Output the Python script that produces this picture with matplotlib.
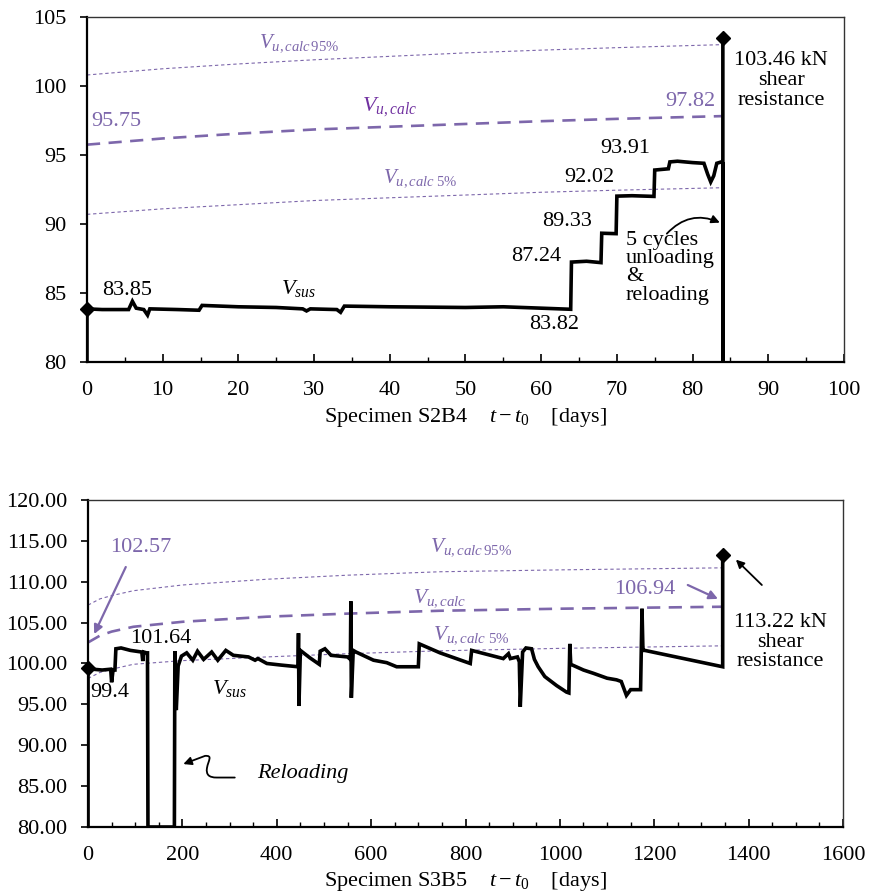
import matplotlib
matplotlib.use('Agg')
import matplotlib.pyplot as plt
from matplotlib.path import Path
from matplotlib.patches import FancyArrowPatch
from matplotlib.ticker import MultipleLocator, FormatStrFormatter

plt.rcParams['font.family'] = ['Liberation Serif', 'DejaVu Serif']
plt.rcParams['mathtext.fontset'] = 'custom'
plt.rcParams['mathtext.rm'] = 'Liberation Serif'
plt.rcParams['mathtext.it'] = 'Liberation Serif:italic'

PURPLE = '#7d67ab'
MAGENTA = '#7030a0'
FS = 16

# ---- specimen S2B4 (top) ----
t_s2b4 = [0, 0, 2, 5.5, 6, 6.5, 7.5, 8, 8.3, 12, 14.8, 15.2, 20, 25, 28.5, 29, 29.5,
          33, 33.5, 34, 40, 50, 55, 60, 63.9, 64, 66, 67.9, 68, 69.9, 70, 72, 74.9,
          75, 76.8, 77, 78, 80, 81.5, 82, 82.4, 82.8, 83.2, 83.8, 84, 84, 84]
v_s2b4 = [80, 83.85, 83.8, 83.8, 84.4, 83.9, 83.8, 83.4, 83.85, 83.8, 83.75, 84.1, 84.0,
          83.95, 83.85, 83.7, 83.85, 83.8, 83.6, 84.05, 84.0, 83.95, 84.0, 83.9, 83.82,
          87.24, 87.3, 87.2, 89.33, 89.3, 92.02, 92.05, 92.0, 93.91, 94.0, 94.5, 94.55,
          94.45, 94.4, 93.6, 93.05, 93.5, 94.4, 94.5, 94.4, 80, 103.46]
t_calc_top = [0, 10, 20, 30, 40, 50, 60, 70, 84]
calc95_top = [100.8, 101.25, 101.6, 101.9, 102.15, 102.4, 102.6, 102.78, 103.0]
calc_top = [95.75, 96.2, 96.55, 96.85, 97.05, 97.25, 97.45, 97.62, 97.82]
calc5_top = [90.7, 91.1, 91.4, 91.7, 91.9, 92.1, 92.3, 92.45, 92.63]

# ---- specimen S3B5 (bottom) ----
t_s3b5 = [0, 0, 10, 30, 48, 50, 53, 57, 59, 70, 90, 114, 116, 118, 124, 126, 127, 183,
          184, 187, 191, 198, 209, 222, 232, 245, 262, 275, 292, 308, 340, 354, 360, 379,
          410, 445, 446, 447, 450, 470, 490, 492, 502, 515, 550, 556, 557, 558, 562, 568,
          605, 633, 654, 700, 702, 746, 810, 813, 880, 891, 895, 910, 914, 916, 921, 928,
          940, 946, 954, 968, 993, 1014, 1019, 1021, 1023, 1050, 1071, 1100, 1120, 1130,
          1141, 1150, 1171, 1174, 1176, 1180, 1345, 1345]
v_s3b5 = [80, 99.4, 99.3, 99.2, 99.3, 97.7, 99.2, 99.2, 101.8, 101.9, 101.6, 101.4, 100.3,
          101.4, 101.3, 101.3, 80, 80, 101.5, 94.3, 99.7, 100.9, 101.3, 100.4, 101.5, 100.5,
          101.4, 100.4, 101.6, 101.0, 100.8, 100.4, 100.6, 100.0, 99.8, 99.6, 103.7, 94.8,
          101.6, 100.7, 99.9, 101.5, 101.8, 101.0, 100.8, 100.5, 107.6, 95.8, 101.6, 101.4,
          100.4, 100.1, 99.6, 99.6, 102.4, 101.3, 100.0, 101.6, 100.6, 101.2, 100.6, 100.8,
          100.2, 94.7, 101.4, 101.9, 101.8, 100.5, 99.6, 98.4, 97.3, 96.5, 96.4, 102.4, 99.9,
          99.2, 98.8, 98.2, 98.0, 97.8, 96.1, 96.8, 96.8, 106.7, 101.6, 101.6, 99.6, 113.22]
t_calc_bot = [0, 25, 50, 96, 200, 378, 550, 746, 1000, 1345]
calc95_bot = [107.14, 107.9, 108.3, 108.9, 109.6, 110.3, 110.8, 111.22, 111.45, 111.7]
calc_bot = [102.57, 103.4, 103.9, 104.49, 105.1, 105.72, 106.1, 106.45, 106.7, 106.94]
calc5_bot = [98.17, 98.9, 99.3, 99.9, 100.35, 100.8, 101.2, 101.55, 101.85, 102.16]


def style_axes(ax):
    for side in ['left', 'bottom']:
        ax.spines[side].set_linewidth(1.6)
        ax.spines[side].set_color('black')
    for side in ['top', 'right']:
        ax.spines[side].set_linewidth(1.0)
        ax.spines[side].set_color('#333333')
    ax.tick_params(axis='x', which='major', direction='in', length=5.5, width=1.2,
                   pad=14, labelsize=FS, top=False)
    ax.tick_params(axis='x', which='minor', direction='in', length=3.5, width=1.0, top=False)
    ax.tick_params(axis='y', which='major', direction='out', length=5, width=1.2,
                   pad=10, labelsize=FS, right=False)


def calc_lines(ax, t, c95, c, c5):
    ax.plot(t, c95, color=PURPLE, lw=0.8, dashes=(3, 2.5), zorder=2)
    ax.plot(t, c, color=PURPLE, lw=1.9, dashes=(5, 3.2), zorder=2)
    ax.plot(t, c5, color=PURPLE, lw=0.8, dashes=(3, 2.5), zorder=2)


fig = plt.figure(figsize=(8.69, 8.96), dpi=100)
ax1 = fig.add_axes([0.1001, 0.596, 0.8711, 0.385])
ax2 = fig.add_axes([0.1013, 0.077, 0.8688, 0.365])

# top chart
calc_lines(ax1, t_calc_top, calc95_top, calc_top, calc5_top)
ax1.plot(t_s2b4, v_s2b4, color='black', lw=2.6, zorder=3, solid_joinstyle='miter')
ax1.plot([t_s2b4[1], t_s2b4[-1]], [v_s2b4[1], v_s2b4[-1]], 'D', color='black',
         ms=7, zorder=4, clip_on=False)
ax1.set_xlim(0, 100)
ax1.set_ylim(80, 105)
ax1.xaxis.set_major_locator(MultipleLocator(10))
ax1.xaxis.set_minor_locator(MultipleLocator(5))
ax1.yaxis.set_major_locator(MultipleLocator(5))
style_axes(ax1)
ax1.set_xlabel(r'Specimen S2B4    $t-t_0$    [days]', fontsize=FS, labelpad=4)

ax1.text(28, 103.1, r'$V_{u,calc\,\mathrm{95\%}}$', color=PURPLE, fontsize=FS - 1,
         ha='center', va='center')
ax1.text(40, 98.5, r'$V_{u,calc}$', color=MAGENTA, fontsize=FS, ha='center', va='center')
ax1.text(44, 93.3, r'$V_{u,calc\ \mathrm{5\%}}$', color=PURPLE, fontsize=FS - 1,
         ha='center', va='center')
ax1.text(0.6, 97.4, '95.75', color=PURPLE, fontsize=FS, ha='left', va='center')
ax1.text(83, 98.85, '97.82', color=PURPLE, fontsize=FS, ha='right', va='center')
ax1.text(2, 85.2, '83.85', fontsize=FS, ha='left', va='center')
ax1.text(28, 85.3, r'$V_{sus}$', fontsize=FS, ha='center', va='center')
ax1.text(65, 82.75, '83.82', fontsize=FS, ha='right', va='center')
ax1.text(62.7, 87.65, '87.24', fontsize=FS, ha='right', va='center')
ax1.text(66.7, 90.15, '89.33', fontsize=FS, ha='right', va='center')
ax1.text(69.7, 93.35, '92.02', fontsize=FS, ha='right', va='center')
ax1.text(71.1, 95.45, '93.91', fontsize=FS, ha='center', va='center')
ax1.text(91.7, 100.4, '103.46 kN\nshear\nresistance', fontsize=FS, ha='center',
         va='center', linespacing=1.05)
ax1.text(71.2, 89.5, '5 cycles\nunloading\n&\nreloading', fontsize=FS, ha='left',
         va='top', linespacing=0.95)
ax1.annotate('', xy=(83.6, 90.1), xytext=(76.6, 89.3),
             arrowprops=dict(arrowstyle='-|>', color='black', lw=1.3, mutation_scale=12,
                             shrinkA=0, shrinkB=0, connectionstyle='arc3,rad=-0.35'))

# bottom chart
calc_lines(ax2, t_calc_bot, calc95_bot, calc_bot, calc5_bot)
ax2.plot(t_s3b5, v_s3b5, color='black', lw=2.6, zorder=3, solid_joinstyle='miter')
ax2.plot([t_s3b5[1], t_s3b5[-1]], [v_s3b5[1], v_s3b5[-1]], 'D', color='black',
         ms=7, zorder=4, clip_on=False)
ax2.set_xlim(0, 1600)
ax2.set_ylim(80, 120)
ax2.xaxis.set_major_locator(MultipleLocator(200))
ax2.xaxis.set_minor_locator(MultipleLocator(50))
ax2.yaxis.set_major_locator(MultipleLocator(5))
ax2.yaxis.set_major_formatter(FormatStrFormatter('%.2f'))
style_axes(ax2)
ax2.set_xlabel(r'Specimen S3B5    $t-t_0$    [days]', fontsize=FS, labelpad=3)

ax2.text(812, 114.2, r'$V_{u,calc\,\mathrm{95\%}}$', color=PURPLE, fontsize=FS - 0.5,
         ha='center', va='center')
ax2.text(745, 108.0, r'$V_{u,calc}$', color=PURPLE, fontsize=FS - 0.5, ha='center',
         va='center')
ax2.text(812, 103.5, r'$V_{u,calc\ \mathrm{5\%}}$', color=PURPLE, fontsize=FS - 0.5,
         ha='center', va='center')
ax2.text(47, 114.2, '102.57', color=PURPLE, fontsize=FS, ha='left', va='center')
ax2.text(1244, 109.0, '106.94', color=PURPLE, fontsize=FS, ha='right', va='center')
ax2.text(89, 103.1, '101.64', fontsize=FS, ha='left', va='center')
ax2.text(4, 96.5, '99.4', fontsize=FS, ha='left', va='center')
ax2.text(300, 97.0, r'$V_{sus}$', fontsize=FS, ha='center', va='center')
ax2.text(358, 86.6, 'Reloading', fontsize=FS, style='italic', ha='left', va='center')
ax2.text(1468, 102.6, '113.22 kN\nshear\nresistance', fontsize=FS, ha='center',
         va='center', linespacing=1.05)
ax2.annotate('', xy=(13, 103.6), xytext=(80, 111.8),
             arrowprops=dict(arrowstyle='-|>', color=PURPLE, lw=1.6, mutation_scale=13,
                             shrinkA=0, shrinkB=0))
ax2.annotate('', xy=(1335, 107.9), xytext=(1271, 109.6),
             arrowprops=dict(arrowstyle='-|>', color=PURPLE, lw=1.6, mutation_scale=13,
                             shrinkA=0, shrinkB=0))
ax2.annotate('', xy=(1373, 112.7), xytext=(1428, 109.6),
             arrowprops=dict(arrowstyle='-|>', color='black', lw=1.3, mutation_scale=12,
                             shrinkA=0, shrinkB=0))

# squiggly arrow pointing at the reloading
squiggle = Path([(311, 86.05), (273, 86.05),
                 (256, 86.05), (250, 86.4), (252, 87.2),
                 (255, 88.2), (265, 88.75), (248, 88.7),
                 (202, 87.7)],
                [Path.MOVETO, Path.LINETO,
                 Path.CURVE4, Path.CURVE4, Path.CURVE4,
                 Path.CURVE4, Path.CURVE4, Path.CURVE4,
                 Path.LINETO])
ax2.add_patch(FancyArrowPatch(path=squiggle, arrowstyle='-|>', mutation_scale=12,
                              color='black', lw=1.3, transform=ax2.transData))

plt.savefig('out.png', dpi=100)
